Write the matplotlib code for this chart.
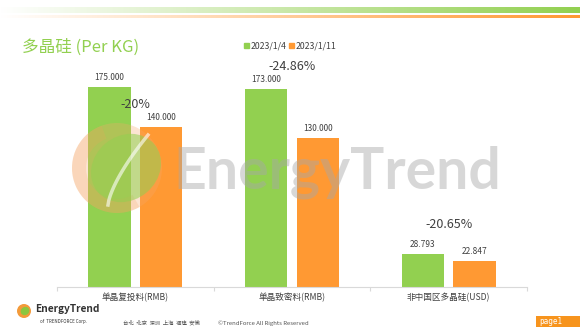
import numpy as np
import matplotlib
matplotlib.use("Agg")
import matplotlib.pyplot as plt
from matplotlib.colors import LinearSegmentedColormap
from matplotlib.patches import Circle, Ellipse, Rectangle, Wedge

plt.rcParams['font.family'] = ['Noto Sans CJK SC', 'DejaVu Sans']

# ---- data ----
categories = ['单晶复投料(RMB)', '单晶致密料(RMB)', '非中国区多晶硅(USD)']
series_names = ['2023/1/4', '2023/1/11']
prices_jan4 = [175.000, 173.000, 28.793]
prices_jan11 = [140.000, 130.000, 22.847]
changes = ['-20%', '-24.86%', '-20.65%']

GREEN = '#92D050'
ORANGE = '#FF9933'
TEXT = '#404040'

W, H = 587, 332
fig = plt.figure(figsize=(W / 100, H / 100), dpi=100)
fig.patch.set_facecolor('white')


def px(x0, y0, w, h):
    """Figure rect from pixel box (top-left origin)."""
    return [x0 / W, 1 - (y0 + h) / H, w / W, h / H]


# ---- header gradient stripes ----
grad = np.linspace(0, 1, 256).reshape(1, -1)
for (y0, h, col) in [(7, 6, GREEN), (15, 3, ORANGE)]:
    bax = fig.add_axes(px(0, y0, 580, h))
    cmap = LinearSegmentedColormap.from_list('g', ['#FFFFFF', col])
    bax.imshow(grad, aspect='auto', cmap=cmap, vmin=0, vmax=1)
    bax.axis('off')

# ---- title ----
fig.text(22 / W, 1 - 47 / H, '多晶硅 (Per KG)', color=GREEN, fontsize=12,
         va='center', ha='left')

# ---- legend ----
leg_items = [(244, GREEN, series_names[0]), (289, ORANGE, series_names[1])]
for x0, col, lab in leg_items:
    fig.patches.append(Rectangle((x0 / W, 1 - 48 / H), 5 / W, 5 / H,
                                 transform=fig.transFigure, color=col))
    fig.text((x0 + 7) / W, 1 - 45.5 / H, lab, fontsize=6.3, color=TEXT,
             va='center', ha='left')

# ---- main bar axes ----
ax = fig.add_axes(px(57, 58, 470, 229))
x = np.arange(len(categories))
bw = 0.27
off = 0.165
bars1 = ax.bar(x - off, prices_jan4, bw, color=GREEN, zorder=2)
bars2 = ax.bar(x + off, prices_jan11, bw, color=ORANGE, zorder=2)
ax.set_xlim(-0.5, len(categories) - 0.5)
ax.set_ylim(0, 200)

for bars in (bars1, bars2):
    for b in bars:
        v = b.get_height()
        ax.annotate(f'{v:.3f}', (b.get_x() + b.get_width() / 2, v),
                    xytext=(0, 3.5), textcoords='offset points',
                    ha='center', va='bottom', fontsize=6, color=TEXT)

change_y = [159, 192.5, 55]
for xi, lab, yy in zip(x, changes, change_y):
    ax.text(xi, yy, lab, ha='center', va='center', fontsize=9, color=TEXT)

for s in ('top', 'right', 'left'):
    ax.spines[s].set_visible(False)
ax.spines['bottom'].set_color('#D9D9D9')
ax.spines['bottom'].set_linewidth(0.8)
ax.set_yticks([])
ax.set_xticks(x)
ax.set_xticklabels(categories, fontsize=6.2, color=TEXT)
ax.tick_params(axis='x', which='major', length=0, pad=4)
ax.set_xticks(np.arange(-0.5, len(categories)), minor=True)
ax.tick_params(axis='x', which='minor', length=3, color='#D9D9D9', width=0.8)
ax.patch.set_alpha(0)

# ---- watermark ----
wm = fig.add_axes([0, 0, 1, 1], zorder=5)
wm.set_xlim(0, W)
wm.set_ylim(H, 0)
wm.axis('off')
wm.patch.set_alpha(0)
wm.add_patch(Circle((117, 168), 45, color='#F7A86A', alpha=0.3, lw=0))
wm.add_patch(Wedge((117, 168), 45, 60, 250, width=14, color='#F5A25A', alpha=0.2, lw=0))
wm.add_patch(Ellipse((126, 168), 74, 64, angle=-40, color='#92D050', alpha=0.55, lw=0))
t = np.linspace(0, 1, 50)
wm.plot(108 + 40 * t, 205 - 70 * t ** 0.7, color='white', lw=2.5, alpha=0.6)
wm.text(173, 172, 'EnergyTrend', fontsize=41, fontweight='bold', family='Lato',
        color='#A8A8A8', alpha=0.45, va='center', ha='left')

# ---- footer ----
wm.add_patch(Circle((24, 311), 7, color='#F39A3A', lw=0))
wm.add_patch(Ellipse((25, 311), 9, 8, angle=-35, color='#8CC63F', lw=0))
wm.text(35, 309, 'EnergyTrend', fontsize=7.3, fontweight='bold', color='#333333',
        va='center', ha='left')
wm.text(40, 322, 'of  TRENDFORCE Corp.', fontsize=3.2, color='#333333',
        va='center', ha='left')
wm.text(123, 323, '台北  北京  深圳  上海  福建  安徽', fontsize=3.9, color='#555555',
        va='center', ha='left')
wm.text(218, 323, '©TrendForce All Rights Reserved', fontsize=4.3, color='#555555',
        va='center', ha='left')
wm.add_patch(Rectangle((536, 316), 44, 11, color='#F7941D', lw=0))
wm.text(539, 321.5, 'page1', fontsize=5.5, family='DejaVu Sans Mono', color='white',
        va='center', ha='left')

fig.savefig('out.png', dpi=100)
